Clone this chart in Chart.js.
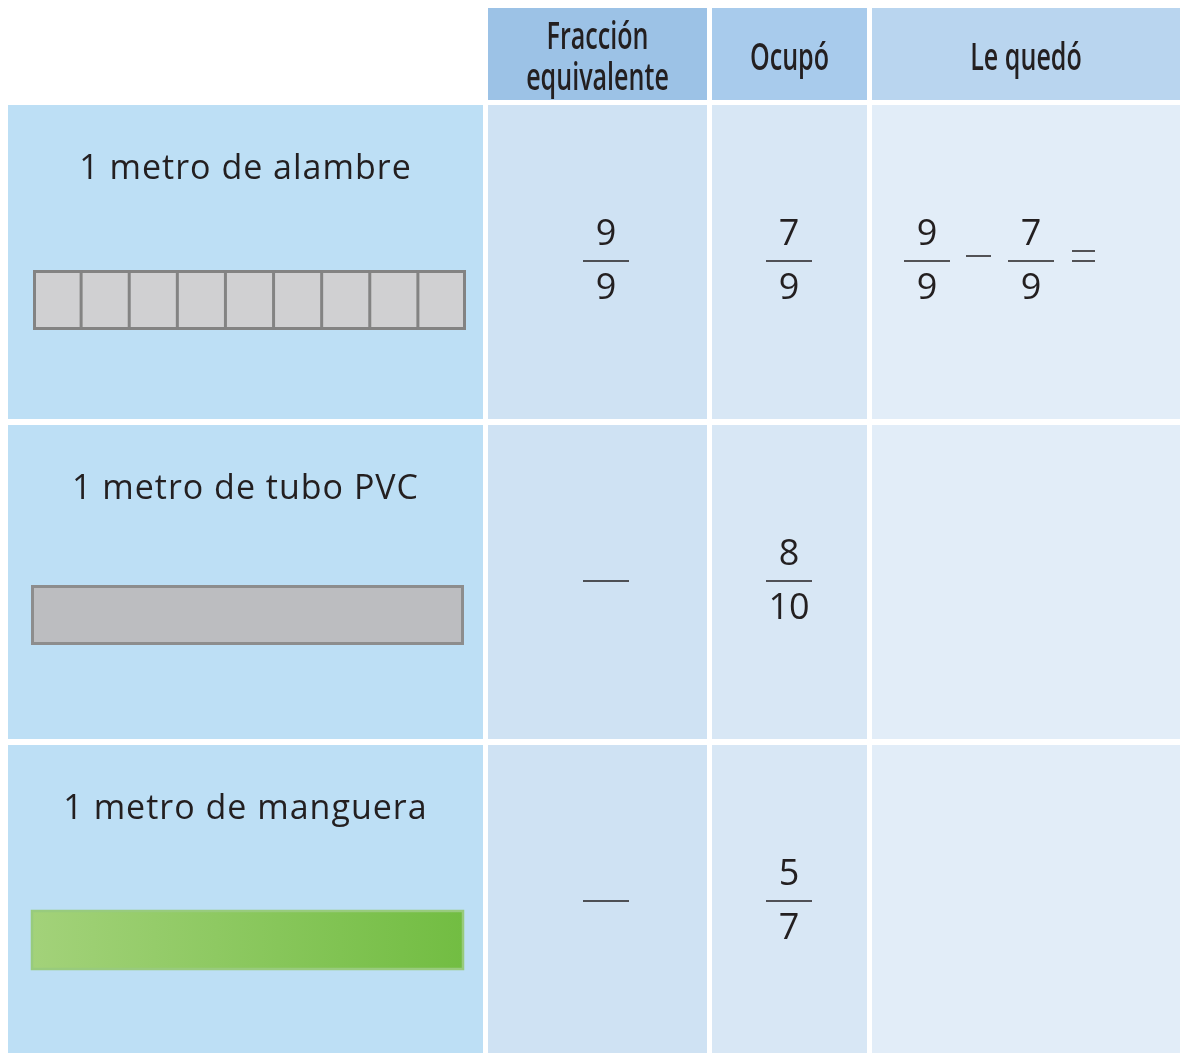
<!DOCTYPE html>
<html>
<head>
<meta charset="utf-8">
<script src="https://cdn.jsdelivr.net/npm/chart.js@4.4.1/dist/chart.umd.min.js"></script>
<style>
  body { margin: 0; background: #fff; }
  #wrap { width: 1180px; height: 1053px; }
</style>
</head>
<body>
<div id="wrap"><canvas id="tabla" width="1180" height="1053"></canvas></div>
<script>
// Table content
const columns = ['Fracción|equivalente', 'Ocupó', 'Le quedó'];
const materials = ['1 metro de alambre', '1 metro de tubo PVC', '1 metro de manguera'];
const segments = [9, 1, 1];
const equivalent = [[9, 9], null, null];   // null -> blank answer line
const used = [[7, 9], [8, 10], [5, 7]];
const leftMinuend = [[9, 9], null, null];
const leftSubtrahend = [[7, 9], null, null];

// Grid geometry in scale units (same as pixels, axis 0..1180 / 0..1053)
const colEdges = [[8, 483], [488, 707], [712, 867], [872, 1180]];
const headerEdge = [8, 100];
const rowEdges = [[105, 419], [425, 739], [745, 1053]];
const barTop = [165, 160, 165];

const headerFill = ['#9cc2e6', '#a8cbec', '#b9d5ef'];
const bodyFill = ['#bddff5', '#cfe2f3', '#d8e7f5', '#e2edf8'];

const tablePlugin = {
  id: 'tablePlugin',
  beforeDatasetsDraw(chart) {
    const { ctx, scales: { x, y } } = chart;
    const px = v => x.getPixelForValue(v);
    const py = v => y.getPixelForValue(v);
    const rect = (x0, y0, x1, y1, fill) => {
      ctx.fillStyle = fill;
      ctx.fillRect(px(x0), py(y0), px(x1) - px(x0), py(y1) - py(y0));
    };

    ctx.save();
    // header cells
    columns.forEach((c, i) => {
      const [a, b] = colEdges[i + 1];
      rect(a, headerEdge[0], b, headerEdge[1], headerFill[i]);
      const lines = c.split('|');
      const cx = (px(a) + px(b)) / 2;
      const cy = (py(headerEdge[0]) + py(headerEdge[1])) / 2 + 5;
      ctx.save();
      ctx.translate(cx, cy);
      ctx.scale(0.66, 1);
      ctx.fillStyle = '#231f20';
      ctx.font = '600 38px "Open Sans"';
      ctx.textAlign = 'center';
      ctx.textBaseline = 'middle';
      const lh = 41;
      lines.forEach((l, k) => {
        ctx.fillText(l, 0, (k - (lines.length - 1) / 2) * lh);
      });
      ctx.restore();
    });

    // body cells
    rowEdges.forEach((r, ri) => {
      colEdges.forEach((c, ci) => rect(c[0], r[0], c[1], r[1], bodyFill[ci]));
    });
    ctx.restore();
  },
  afterDatasetsDraw(chart) {
    const { ctx, scales: { x, y } } = chart;
    const px = v => x.getPixelForValue(v);
    const py = v => y.getPixelForValue(v);
    ctx.save();
    ctx.fillStyle = '#231f20';
    ctx.strokeStyle = '#231f20';
    ctx.textAlign = 'center';
    ctx.textBaseline = 'middle';

    const fraction = (cx, cy, f, half) => {
      ctx.lineWidth = 1.5;
      ctx.beginPath();
      ctx.moveTo(px(cx - half), cy);
      ctx.lineTo(px(cx + half), cy);
      ctx.stroke();
      if (!f) return;
      ctx.font = '36px "Open Sans"';
      ctx.fillText(String(f[0]), px(cx), cy - 26);
      ctx.fillText(String(f[1]), px(cx), cy + 28);
    };

    materials.forEach((m, ri) => {
      const [r0] = rowEdges[ri];
      // label
      const lx = (px(colEdges[0][0]) + px(colEdges[0][1])) / 2;
      ctx.font = '34px "Open Sans"';
      ctx.letterSpacing = '1px';
      ctx.fillText(m, lx, py(r0 + 64));
      ctx.letterSpacing = '0px';

      // bar
      const bx0 = px(ri === 0 ? 33 : 31), bx1 = px(ri === 0 ? 466 : 464);
      const by0 = py(r0 + barTop[ri]), by1 = py(r0 + barTop[ri] + 60);
      if (ri === 2) {
        const g = ctx.createLinearGradient(bx0, 0, bx1, 0);
        g.addColorStop(0, '#a3d27a');
        g.addColorStop(1, '#72bd42');
        ctx.fillStyle = g;
        ctx.fillRect(bx0, by0, bx1 - bx0, by1 - by0);
        ctx.strokeStyle = '#98cb7d';
        ctx.lineWidth = 2.5;
        ctx.strokeRect(bx0 + 1, by0 + 1, bx1 - bx0 - 2, by1 - by0 - 2);
      } else {
        ctx.fillStyle = ri === 0 ? '#d0d0d2' : '#bcbdc0';
        ctx.fillRect(bx0, by0, bx1 - bx0, by1 - by0);
        ctx.strokeStyle = ri === 0 ? '#838383' : '#8d8d8d';
        ctx.lineWidth = 3;
        ctx.strokeRect(bx0 + 1.5, by0 + 1.5, bx1 - bx0 - 3, by1 - by0 - 3);
        const n = segments[ri];
        for (let k = 1; k < n; k++) {
          const sx = bx0 + (bx1 - bx0) * k / n;
          ctx.beginPath();
          ctx.moveTo(sx, by0);
          ctx.lineTo(sx, by1);
          ctx.stroke();
        }
      }
      ctx.fillStyle = '#231f20';
      ctx.strokeStyle = '#231f20';

      // fraction columns
      const midY = py(r0 + 156);
      fraction(606, midY, equivalent[ri], 23);
      fraction(789, midY, used[ri], 23);

      if (leftMinuend[ri]) {
        fraction(927, midY, leftMinuend[ri], 23);
        fraction(1031, midY, leftSubtrahend[ri], 23);
        ctx.lineWidth = 1.5;
        ctx.beginPath();
        ctx.moveTo(px(966), midY - 5); ctx.lineTo(px(991), midY - 5);
        ctx.moveTo(px(1072), midY - 10); ctx.lineTo(px(1095), midY - 10);
        ctx.moveTo(px(1072), midY); ctx.lineTo(px(1095), midY);
        ctx.stroke();
      }
    });
    ctx.restore();
  }
};

new Chart(document.getElementById('tabla'), {
  type: 'scatter',
  data: { datasets: [{ data: [], pointRadius: 0 }] },
  options: {
    responsive: false,
    animation: false,
    layout: { padding: 0 },
    plugins: { legend: { display: false }, tooltip: { enabled: false } },
    scales: {
      x: { type: 'linear', min: 0, max: 1180, display: false },
      y: { type: 'linear', min: 0, max: 1053, reverse: true, display: false }
    }
  },
  plugins: [tablePlugin]
});
</script>
</body>
</html>
